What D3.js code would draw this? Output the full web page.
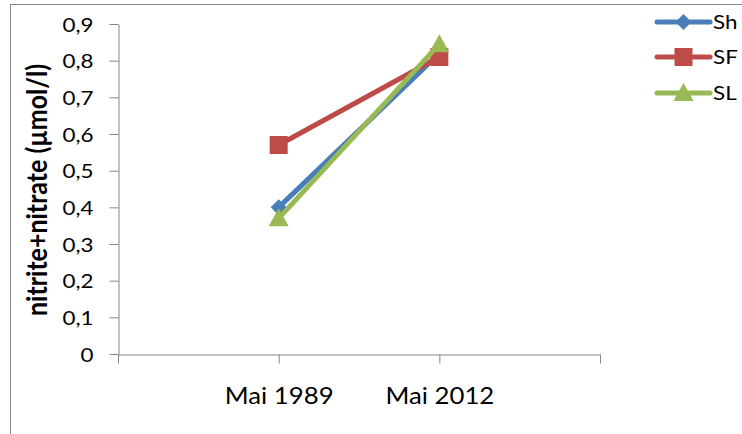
<!DOCTYPE html>
<html><head><meta charset="utf-8">
<script src="https://cdn.jsdelivr.net/npm/d3@7"></script>
<style>body{margin:0;background:#fff;} svg{display:block;}</style>
</head><body>
<svg id="c" width="742" height="434"></svg>
<script>
const categories = ["", "Mai 1989", "Mai 2012", ""];
const seriesNames = ["Sh", "SF", "SL"];
const shValues = [0.40, 0.82];
const sfValues = [0.57, 0.81];
const slValues = [0.37, 0.845];
const yTicks = [0, 0.1, 0.2, 0.3, 0.4, 0.5, 0.6, 0.7, 0.8, 0.9];
const colors = ["#4a7ebb", "#be4b48", "#98b954"];
const markers = ["diamond", "square", "triangle"];
const dataCats = ["Mai 1989", "Mai 2012"];

const svg = d3.select("#c");
const font = "Lato, 'Open Sans', sans-serif";
const axisColor = "#868686";
const sx = 1.12;

// outer frame
svg.append("rect").attr("x", 10.5).attr("y", 4.5).attr("width", 800).attr("height", 500)
  .attr("fill", "none").attr("stroke", axisColor).attr("stroke-width", 1);

const x = d3.scalePoint().domain(categories.map((c, i) => i)).range([118, 600]);
const y = d3.scaleLinear().domain([0, 0.9]).range([354, 24]);

// y axis
const yAxis = svg.append("g").attr("transform", "translate(118.5,0)")
  .call(d3.axisLeft(y).tickValues(yTicks).tickSize(9).tickSizeOuter(0)
    .tickFormat(d => d === 0 ? "0" : d3.format(".1f")(d).replace(".", ",")));
yAxis.selectAll("path, line").attr("stroke", axisColor);
yAxis.selectAll("text").attr("x", 0).attr("dy", "0.36em")
  .attr("transform", `translate(-25,0) scale(${sx},1)`)
  .attr("font-family", font).attr("font-size", 20).attr("fill", "#000");

// x axis
const xAxis = svg.append("g").attr("transform", "translate(0,354.5)")
  .call(d3.axisBottom(x).tickSize(9).tickSizeOuter(0).tickFormat(i => categories[i]));
xAxis.selectAll("path, line").attr("stroke", axisColor);
xAxis.selectAll("text").attr("x", 0).attr("y", 50).attr("dy", 0)
  .attr("transform", `scale(${sx},1)`)
  .attr("font-family", font).attr("font-size", 23).attr("fill", "#000");

// axis title
svg.append("text").attr("transform", `translate(47,190) scale(${sx},1) rotate(-90)`)
  .attr("text-anchor", "middle").attr("font-family", font).attr("font-size", 25)
  .attr("font-weight", "bold").text("nitrite+nitrate (µmol/l)");

function drawMarker(g, type, cx, cy, color) {
  if (type === "diamond") {
    const s = 8;
    g.append("path").attr("d", `M${cx},${cy - s}L${cx + s},${cy}L${cx},${cy + s}L${cx - s},${cy}Z`).attr("fill", color);
  } else if (type === "square") {
    const s = 9;
    g.append("rect").attr("x", cx - s).attr("y", cy - s).attr("width", 2 * s).attr("height", 2 * s).attr("fill", color);
  } else {
    const s = 10;
    g.append("path").attr("d", `M${cx},${cy - s}L${cx + s},${cy + s * 0.8}L${cx - s},${cy + s * 0.8}Z`).attr("fill", color);
  }
}

const allValues = [shValues, sfValues, slValues];
const line = d3.line().x((d, i) => x(categories.indexOf(dataCats[i]))).y(d => y(d));
allValues.forEach((vals, k) => {
  const g = svg.append("g");
  g.append("path").datum(vals).attr("d", line).attr("fill", "none")
    .attr("stroke", colors[k]).attr("stroke-width", 5).attr("stroke-linecap", "round");
  vals.forEach((v, i) => drawMarker(g, markers[k], x(categories.indexOf(dataCats[i])), y(v), colors[k]));
});

// legend
const legY = [22, 57, 93];
seriesNames.forEach((n, k) => {
  const g = svg.append("g");
  g.append("line").attr("x1", 657).attr("x2", 710).attr("y1", legY[k]).attr("y2", legY[k])
    .attr("stroke", colors[k]).attr("stroke-width", 5).attr("stroke-linecap", "round");
  drawMarker(g, markers[k], 683.5, legY[k], colors[k]);
  g.append("text").attr("transform", `translate(713,${legY[k]}) scale(${sx},1)`).attr("dy", "0.36em")
    .attr("font-family", font).attr("font-size", 20).text(n);
});
</script>
</body></html>
